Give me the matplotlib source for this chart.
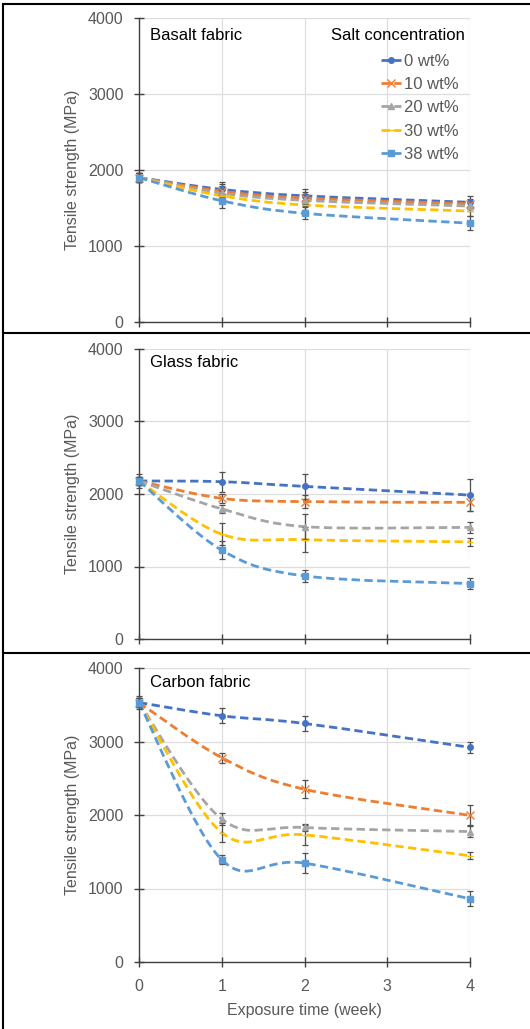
import numpy as np
import matplotlib
matplotlib.use('Agg')
import matplotlib.pyplot as plt
from matplotlib.path import Path
from matplotlib.patches import PathPatch
from matplotlib.lines import Line2D

plt.rcParams['font.family'] = ['Liberation Sans', 'DejaVu Sans']

# exposure time (week)
weeks = [0, 1, 2, 4]
series_labels = ['0 wt%', '10 wt%', '20 wt%', '30 wt%', '38 wt%']
panel_titles = ['Basalt fabric', 'Glass fabric', 'Carbon fabric']

# tensile strength (MPa), one list per salt concentration
basalt = [
    [1900, 1745, 1660, 1575],
    [1900, 1720, 1630, 1555],
    [1900, 1695, 1600, 1525],
    [1900, 1660, 1540, 1460],
    [1900, 1595, 1430, 1300],
]
basalt_err = [
    [60, 100, 90, 80],
    [60, 90, 80, 70],
    [60, 90, 80, 70],
    [60, 80, 70, 70],
    [60, 90, 80, 90],
]
glass = [
    [2180, 2170, 2105, 1985],
    [2180, 1940, 1895, 1885],
    [2180, 1795, 1550, 1540],
    [2180, 1445, 1370, 1340],
    [2180, 1225, 870, 765],
]
glass_err = [
    [100, 140, 170, 220],
    [60, 60, 90, 120],
    [60, 60, 170, 80],
    [60, 150, 170, 60],
    [60, 120, 80, 80],
]
carbon = [
    [3530, 3350, 3245, 2920],
    [3530, 2780, 2350, 1995],
    [3530, 1945, 1830, 1775],
    [3530, 1760, 1730, 1445],
    [3530, 1390, 1345, 860],
]
carbon_err = [
    [90, 100, 100, 80],
    [60, 70, 125, 135],
    [60, 80, 50, 80],
    [60, 125, 135, 50],
    [60, 60, 135, 100],
]

colors = ['#4472C4', '#ED7D31', '#A5A5A5', '#FFC000', '#5B9BD5']
markers = ['o', 'x', '^', '_', 's']
msizes = [4, 6, 4, 5, 4]
dash = (0, (3, 1.6))


def smooth_path(xs, ys):
    # Excel-like smoothed line: cubic bezier through the points
    pts = np.column_stack([xs, ys]).astype(float)
    n = len(pts)
    verts = [pts[0]]
    codes = [Path.MOVETO]
    for i in range(n - 1):
        p0 = pts[i - 1] if i > 0 else pts[i]
        p1 = pts[i]
        p2 = pts[i + 1]
        p3 = pts[i + 2] if i + 2 < n else pts[i + 1]
        c1 = p1 + (p2 - p0) / 6.0
        c2 = p2 - (p3 - p1) / 6.0
        verts += [c1, c2, p2]
        codes += [Path.CURVE4] * 3
    return Path(verts, codes)


W, H = 530, 1029
fig = plt.figure(figsize=(W / 100, H / 100), dpi=100)

left = 139 / W
width = (470 - 139) / W
boxes = [(18, 322), (349, 639), (668, 962)]
datasets = [(basalt, basalt_err), (glass, glass_err), (carbon, carbon_err)]
title_y = [0.944, 0.952, 0.949]

grey = '#595959'
for k, ((top, bot), (vals, errs)) in enumerate(zip(boxes, datasets)):
    ax = fig.add_axes([left, 1 - bot / H, width, (bot - top) / H])
    ax.set_xlim(0, 4)
    ax.set_ylim(0, 4000)
    ax.set_xticks([0, 1, 2, 3, 4])
    ax.set_yticks([0, 1000, 2000, 3000, 4000])
    ax.grid(True, color='#DDDDDD', linewidth=0.9)
    ax.set_axisbelow(True)
    for s in ['top', 'right']:
        ax.spines[s].set_visible(False)
    for s in ['left', 'bottom']:
        ax.spines[s].set_color('#404040')
        ax.spines[s].set_linewidth(1.0)
    ax.tick_params(direction='inout', length=7, width=1.0, color='#404040',
                   labelsize=11.5, labelcolor=grey)
    ax.tick_params(axis='y', pad=7.5)
    ax.tick_params(axis='x', pad=9)
    if k < 2:
        ax.tick_params(axis='x', labelbottom=False)
    else:
        ax.set_xlabel('Exposure time (week)', fontsize=11.5, color=grey, labelpad=6)
    ax.set_ylabel('Tensile strength (MPa)', fontsize=11.5, color=grey, labelpad=6)
    ax.text(0.033, title_y[k], panel_titles[k], transform=ax.transAxes,
            fontsize=12, color='black', va='center', ha='left')

    for i in range(len(series_labels)):
        patch = PathPatch(smooth_path(weeks, vals[i]), fill=False, edgecolor=colors[i],
                          linewidth=2.0, linestyle=dash, zorder=3)
        ax.add_patch(patch)
        ax.errorbar(weeks, vals[i], yerr=errs[i], fmt=markers[i], color=colors[i],
                    markersize=msizes[i], ecolor='#505050', elinewidth=0.9,
                    capsize=2, capthick=0.9, zorder=4, clip_on=False)

    if k == 0:
        handles = [Line2D([0], [0], color=colors[i], linewidth=2.0, linestyle=dash,
                          marker=markers[i], markersize=msizes[i])
                   for i in range(len(series_labels))]
        ax.text(0.985, 0.944, 'Salt concentration', transform=ax.transAxes,
                fontsize=12, color='black', ha='right', va='center')
        leg = ax.legend(handles, series_labels, loc='upper left',
                        bbox_to_anchor=(0.731, 0.883), frameon=False,
                        fontsize=12, handlelength=1.2, handletextpad=0.2,
                        labelspacing=0.5, borderaxespad=0.0, borderpad=0.0)
        for t in leg.get_texts():
            t.set_color(grey)

# frame and separators
fig.add_artist(Line2D([3 / W, 1], [1 - 4 / H, 1 - 4 / H], color='black', linewidth=1.5))
fig.add_artist(Line2D([3 / W, 3 / W], [0, 1 - 4 / H], color='black', linewidth=1.5))
for yy in [333, 653]:
    fig.add_artist(Line2D([3 / W, 1], [1 - yy / H, 1 - yy / H], color='black', linewidth=1.5))

fig.savefig('out.png', dpi=100)
